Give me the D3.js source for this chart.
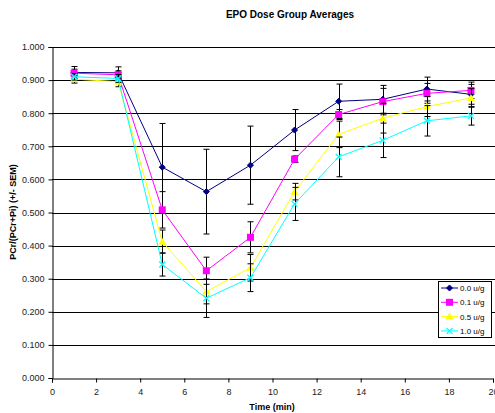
<!DOCTYPE html>
<html><head><meta charset="utf-8">
<script src="https://cdn.jsdelivr.net/npm/d3@7/dist/d3.min.js"></script>
<style>body{margin:0;background:#fff}svg{display:block;font-family:Arial,"Liberation Sans",sans-serif}</style>
</head><body>
<svg id="c" width="495" height="413"></svg>
<script>
const times = [1,3,5,7,9,11,13,15,17,19];
const seriesNames = ["0.0 u/g","0.1 u/g","0.5 u/g","1.0 u/g"];
const v00 = [0.923,0.922,0.637,0.563,0.643,0.749,0.836,0.842,0.873,0.857];
const e00 = [0.018,0.018,0.132,0.128,0.118,0.062,0.052,0.042,0.036,0.030];
const v01 = [0.921,0.916,0.508,0.324,0.425,0.661,0.796,0.835,0.860,0.869];
const e01 = [0.012,0.012,0.055,0.041,0.047,0.010,0.015,0.040,0.030,0.025];
const v05 = [0.903,0.895,0.412,0.261,0.333,0.563,0.736,0.785,0.820,0.846];
const e05 = [0.012,0.015,0.035,0.037,0.040,0.025,0.040,0.045,0.030,0.028];
const v10 = [0.910,0.905,0.343,0.241,0.303,0.526,0.668,0.718,0.777,0.792];
const e10 = [0.010,0.012,0.035,0.058,0.042,0.050,0.060,0.052,0.046,0.028];
const yTicks = [0,0.1,0.2,0.3,0.4,0.5,0.6,0.7,0.8,0.9,1.0];
const xTicks = [0,2,4,6,8,10,12,14,16,18,20];
const colors = ["#000080","#FF00FF","#FFFF00","#00FFFF"];
const markers = ["diamond","square","triangle","x"];

const vals = [v00,v01,v05,v10], errs=[e00,e01,e05,e10];
const svg = d3.select("#c");
const x = d3.scaleLinear().domain([0,20]).range([52,493]);
const y = d3.scaleLinear().domain([0,1]).range([378,47]);

svg.append("text").attr("x",290).attr("y",18).attr("text-anchor","middle")
  .attr("font-size",10).attr("font-weight","bold").text("EPO Dose Group Averages");

// gridlines
svg.append("g").selectAll("line").data(yTicks.slice(1)).join("line")
  .attr("x1",52).attr("x2",495).attr("y1",d=>Math.round(y(d))+0.5).attr("y2",d=>Math.round(y(d))+0.5)
  .attr("stroke","#000").attr("stroke-width",1);

// axes
const ya = svg.append("g").attr("transform","translate(52.5,0)")
  .call(d3.axisLeft(y).tickValues(yTicks).tickFormat(d3.format(".3f")).tickSizeOuter(0).tickSize(4));
const xa = svg.append("g").attr("transform","translate(0,378.5)")
  .call(d3.axisBottom(x).tickValues(xTicks).tickFormat(d3.format("d")).tickSizeOuter(0).tickSize(4));
[ya,xa].forEach(a=>{a.select(".domain").attr("stroke","#000");a.selectAll(".tick line").attr("stroke","#000");
  a.selectAll("text").attr("font-size",9).attr("fill","#222").attr("font-family","Arial,'Liberation Sans',sans-serif");});
ya.selectAll("text").attr("dx","-1");
xa.selectAll("text").attr("dy","1.1em");

svg.append("text").attr("transform","translate(16,212) rotate(-90)").attr("text-anchor","middle")
  .attr("font-size",9).attr("font-weight","bold").text("PCr/(PCr+Pi) (+/- SEM)");
svg.append("text").attr("x",272).attr("y",410).attr("text-anchor","middle")
  .attr("font-size",9).attr("font-weight","bold").text("Time (min)");

function drawMarker(g, type, color, cx, cy){
  if(type==="diamond") g.append("path").attr("d",`M${cx},${cy-3}L${cx+3},${cy}L${cx},${cy+3}L${cx-3},${cy}Z`).attr("fill",color).attr("stroke",color);
  else if(type==="square") g.append("rect").attr("x",cx-3.5).attr("y",cy-3.5).attr("width",7).attr("height",7).attr("fill",color);
  else if(type==="triangle") g.append("path").attr("d",`M${cx},${cy-4}L${cx+4},${cy+3}L${cx-4},${cy+3}Z`).attr("fill",color);
  else g.append("path").attr("d",`M${cx-3},${cy-3}L${cx+3},${cy+3}M${cx-3},${cy+3}L${cx+3},${cy-3}`).attr("stroke",color).attr("stroke-width",1.3);
}

const line = d3.line().x((d,i)=>x(times[i])).y(d=>y(d));
vals.forEach((vs,s)=>{
  const g = svg.append("g");
  // error bars
  vs.forEach((v,i)=>{
    const cx = Math.round(x(times[i]))+0.5, lo=y(v-errs[s][i]), hi=y(v+errs[s][i]);
    g.append("line").attr("x1",cx).attr("x2",cx).attr("y1",lo).attr("y2",hi).attr("stroke","#000");
    [lo,hi].forEach(yy=>g.append("line").attr("x1",cx-3).attr("x2",cx+3).attr("y1",yy).attr("y2",yy).attr("stroke","#000"));
  });
  g.append("path").datum(vs).attr("d",line).attr("fill","none").attr("stroke",colors[s]).attr("stroke-width",1);
  vs.forEach((v,i)=>drawMarker(g,markers[s],colors[s],x(times[i]),y(v)));
});

// legend
const lg = svg.append("g");
lg.append("rect").attr("x",438.5).attr("y",281.5).attr("width",53).attr("height",56).attr("fill","#fff").attr("stroke","#000");
seriesNames.forEach((n,i)=>{
  const yy = 288 + i*14.3;
  lg.append("line").attr("x1",441).attr("x2",458).attr("y1",yy).attr("y2",yy).attr("stroke",colors[i]);
  drawMarker(lg,markers[i],colors[i],449.5,yy);
  lg.append("text").attr("x",460).attr("y",yy+3).attr("font-size",8).attr("fill","#000").text(n);
});
</script>
</body></html>
